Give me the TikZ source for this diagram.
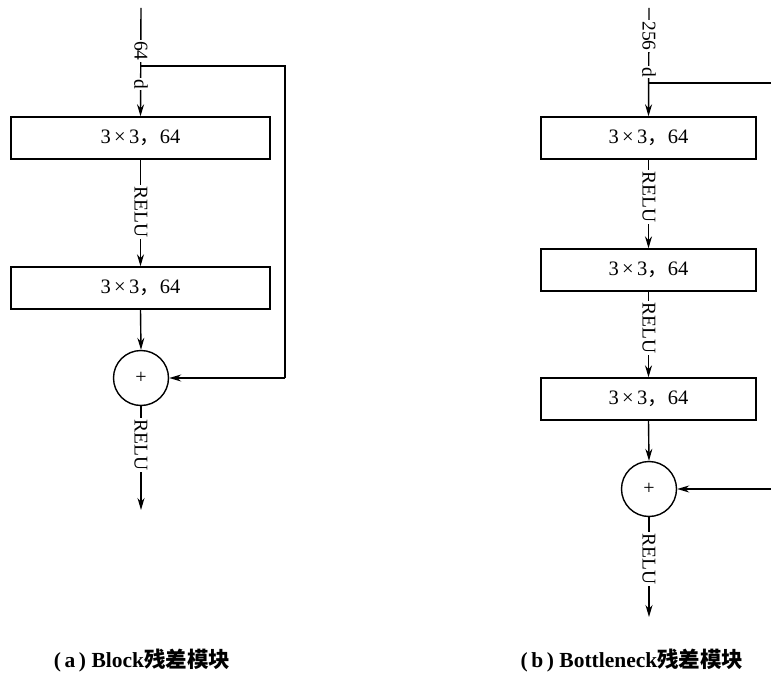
\documentclass[tikz,border=0pt]{standalone}
\usepackage{fontspec}
\setmainfont{Liberation Serif}
\newfontfamily\cjk{Noto Sans CJK SC}
\usetikzlibrary{arrows.meta}
\begin{document}
\begin{tikzpicture}[x=1pt,y=-1pt,
  conv/.style={draw,line width=1.4pt,minimum height=42pt,inner sep=0pt,font=\fontsize{20.5}{20.5}\selectfont},
  addc/.style={draw,circle,line width=1.4pt,minimum size=55pt,inner sep=0pt,font=\fontsize{20}{20}\selectfont},
  ln/.style={line width=1.4pt},
  arr/.style={line width=1.4pt,-{Stealth[length=12pt,width=7pt]}},
  lab/.style={fill=white,rotate=-90,inner sep=1.5pt,font=\fontsize{19.5}{19.5}\selectfont},
  captext/.style={font=\fontsize{21.5}{21.5}\selectfont\bfseries}]
\useasboundingbox (0,0) rectangle (771,676);
% ---------- (a) ----------
\coordinate (atop) at (141,8);
\coordinate (asplit) at (141,66);
\coordinate (ar1) at (285,66);
\coordinate (ar2) at (285,378);
\coordinate (aend) at (141,510);
\node[conv,minimum width=259pt] (a1) at (140.5,138) {3\,×\,3{\cjk ，}64};
\node[conv,minimum width=259pt] (a2) at (140.5,288) {3\,×\,3{\cjk ，}64};
\node[addc] (ca) at (141,378) {+};
\draw[arr] (atop) -- (a1.north);
\node[lab] (l64) at (141,51) {64};
\node[lab] (ld) at (141,84) {d};
\draw[ln] (asplit) -- (ar1) -- (ar2);
\draw[arr] (ar2) -- (ca.east);
\draw[arr] (a1.south) -- (a2.north);
\node[lab] (ar1l) at (141,212) {RELU};
\draw[arr] (a2.south) -- (ca.north);
\draw[arr] (ca.south) -- (aend);
\node[lab] (ar2l) at (141,445) {RELU};
% ---------- (b) ----------
\coordinate (btop) at (649,8);
\coordinate (bsplit) at (649,83);
\coordinate (bright) at (771,83);
\coordinate (bin) at (771,489);
\coordinate (bend) at (649,617);
\node[conv,minimum width=215pt] (b1) at (648.5,138) {3\,×\,3{\cjk ，}64};
\node[conv,minimum width=215pt] (b2) at (648.5,270) {3\,×\,3{\cjk ，}64};
\node[conv,minimum width=215pt] (b3) at (648.5,399) {3\,×\,3{\cjk ，}64};
\node[addc] (cb) at (649,489) {+};
\draw[arr] (btop) -- (b1.north);
\node[lab] (l256) at (649,36) {256};
\node[lab] (lbd) at (649,72) {d};
\draw[ln] (bsplit) -- (bright);
\draw[arr] (b1.south) -- (b2.north);
\node[lab] (br1l) at (649,197) {RELU};
\draw[arr] (b2.south) -- (b3.north);
\node[lab] (br2l) at (649,328) {RELU};
\draw[arr] (b3.south) -- (cb.north);
\draw[arr] (bin) -- (cb.east);
\draw[arr] (cb.south) -- (bend);
\node[lab] (br3l) at (649,559) {RELU};
% ---------- captions ----------
\node[captext] (capa) at (142,661) {(\,a\,) Block{\cjk\bfseries 残差模块}};
\node[captext] (capb) at (632,661) {(\,b\,) Bottleneck{\cjk\bfseries 残差模块}};
\end{tikzpicture}
\end{document}
